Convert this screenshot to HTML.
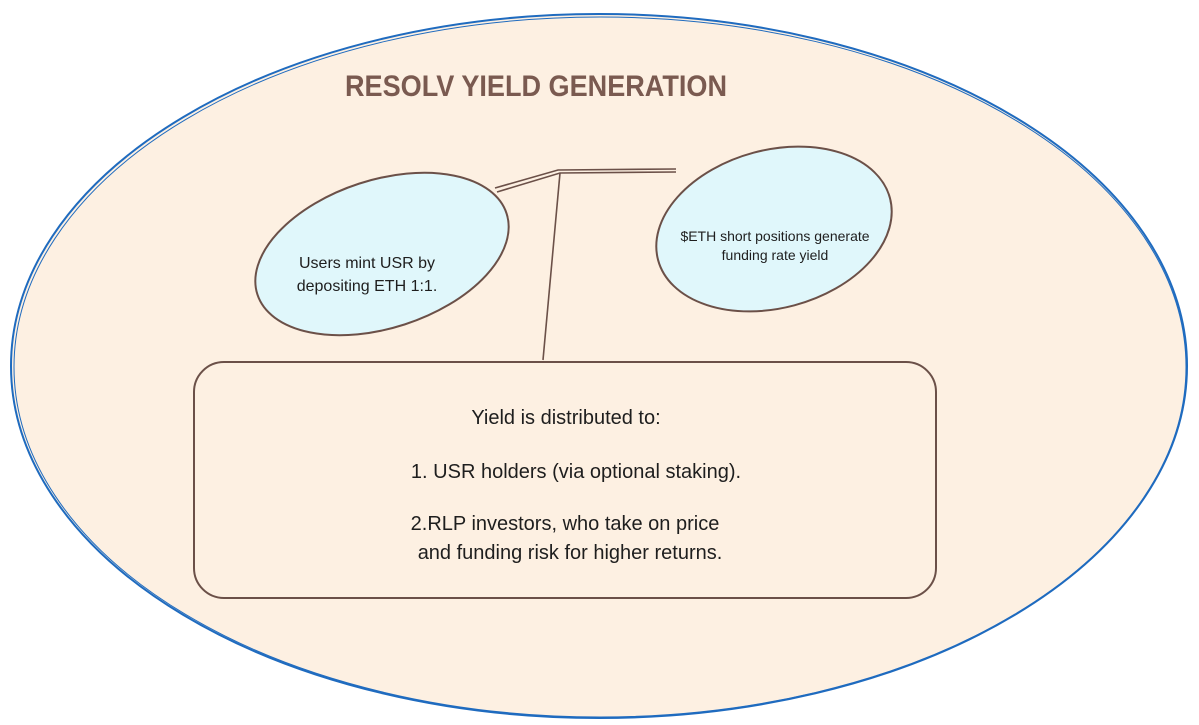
<!DOCTYPE html>
<html><head><meta charset="utf-8"><style>
html,body{margin:0;padding:0;background:#fff;}
svg{display:block;}
text{font-family:"Liberation Sans",sans-serif;fill:#1e1e1e;}
</style></head><body>
<svg width="1199" height="725" viewBox="0 0 1199 725" xmlns="http://www.w3.org/2000/svg">
<ellipse cx="599" cy="366" rx="588" ry="352" fill="#fdf0e2" stroke="#1f6bbf" stroke-width="2"/>
<ellipse cx="600" cy="367" rx="586" ry="350" fill="none" stroke="#1f6bbf" stroke-width="1"/>
<text x="345" y="96" textLength="382" lengthAdjust="spacingAndGlyphs" font-size="30" font-weight="bold" style="fill:#7a5a50">RESOLV YIELD GENERATION</text>
<g stroke="#6b5048" stroke-width="1.6" fill="none">
<polyline points="497,192 560,173 676,172"/>
<polyline points="495,188 558,170 676,169"/>
<line x1="560" y1="173" x2="543" y2="360"/>
</g>
<ellipse cx="382" cy="254" rx="131" ry="74" transform="rotate(-18 382 254)" fill="#e0f7fb" stroke="#6b5048" stroke-width="2"/>
<ellipse cx="774" cy="229" rx="120" ry="79" transform="rotate(-15 774 229)" fill="#e0f7fb" stroke="#6b5048" stroke-width="2"/>
<text x="367" y="268" text-anchor="middle" font-size="16">Users mint USR by</text>
<text x="367" y="291" text-anchor="middle" font-size="16">depositing ETH 1:1.</text>
<text x="775" y="241" text-anchor="middle" font-size="14">$ETH short positions generate</text>
<text x="775" y="260" text-anchor="middle" font-size="14">funding rate yield</text>
<rect x="194" y="362" width="742" height="236" rx="30" fill="#fdf0e2" stroke="#6b5048" stroke-width="2"/>
<g font-size="20" text-anchor="middle">
<text x="566" y="424">Yield is distributed to:</text>
<text x="576" y="478">1. USR holders (via optional staking).</text>
<text x="565" y="530">2.RLP investors, who take on price</text>
<text x="570" y="559">and funding risk for higher returns.</text>
</g>
</svg>
</body></html>
